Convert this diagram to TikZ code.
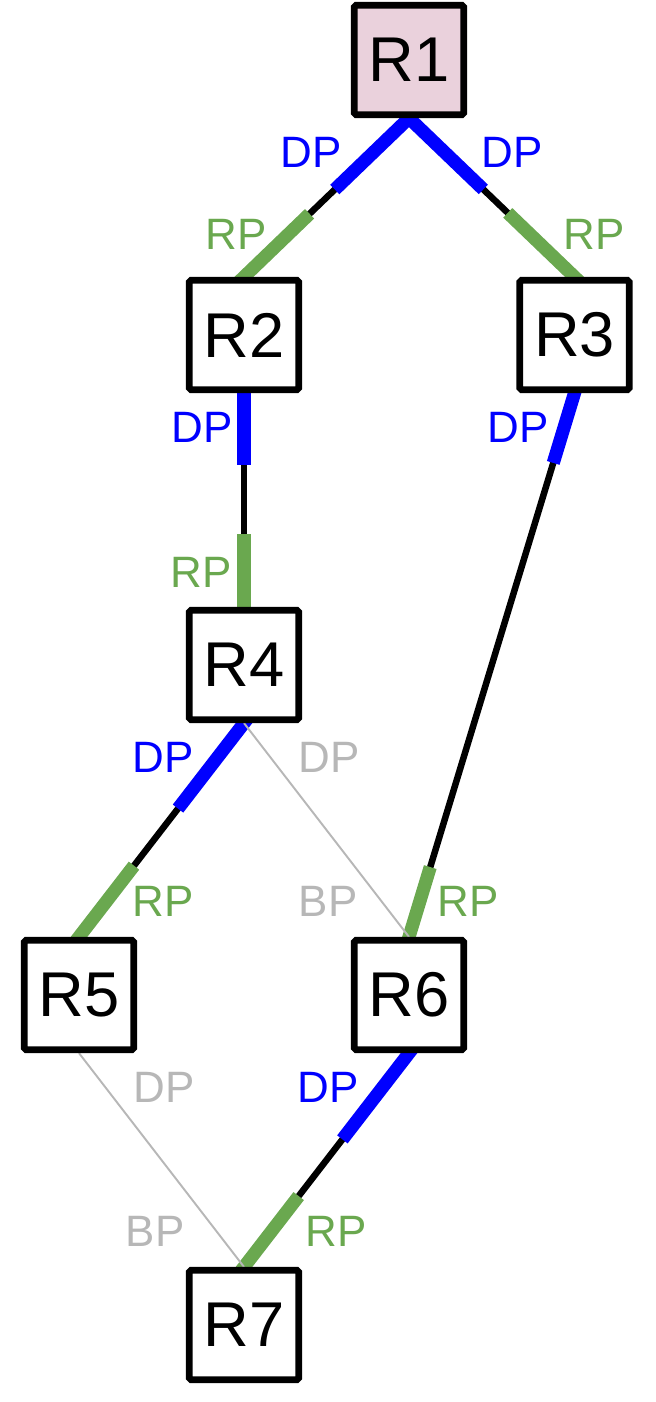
\documentclass[tikz,border=0pt]{standalone}
\usepackage{fontspec}
\setmainfont{Liberation Sans}
\usetikzlibrary{positioning,calc,backgrounds}

\definecolor{dpblue}{HTML}{0000FF}
\definecolor{rpgreen}{HTML}{6AA84F}
\definecolor{bpgray}{HTML}{B7B7B7}
\definecolor{rootpink}{HTML}{EAD1DC}

\tikzset{
  router/.style={draw, fill=white, line width=3.8pt, rounded corners=1pt,
    minimum size=2.19cm, inner sep=0pt, font=\fontsize{36}{40}\selectfont},
  link/.style={line width=3.7pt},
  bplink/.style={bpgray, line width=1.1pt},
  dpseg/.style={dpblue, line width=7.5pt, shorten <=-0.3cm},
  rpseg/.style={rpgreen, line width=7.5pt, shorten <=-0.3cm},
  dplabel/.style={text=dpblue, inner sep=0pt, font=\fontsize{25}{30}\selectfont},
  rplabel/.style={dplabel, text=rpgreen},
  bplabel/.style={dplabel, text=bpgray}
}

\begin{document}
\begin{tikzpicture}[on grid]
  \useasboundingbox (0,0) rectangle (13.1,-28.04);

  % routers
  \node[router, fill=rootpink] (R1) at (8.18,-1.2)            {R1};
  \node[router] (R2) [below left=5.5cm and 3.3cm of R1]       {R2};
  \node[router] (R3) [below right=5.5cm and 3.31cm of R1]     {R3};
  \node[router] (R4) [below=6.6cm of R2]                      {R4};
  \node[router] (R5) [below left=6.6cm and 3.3cm of R4]       {R5};
  \node[router] (R6) [below right=6.6cm and 3.3cm of R4]      {R6};
  \node[router] (R7) [below left=6.6cm and 3.3cm of R6]       {R7};

  % port roles
  \node[dplabel] (R1dpl) [below left=1.85cm and 1.95cm of R1]  {DP};
  \node[dplabel] (R1dpr) [below right=1.85cm and 2.07cm of R1] {DP};
  \node[rplabel] (R2rp)  [above left=2.02cm and 0.16cm of R2]  {RP};
  \node[rplabel] (R3rp)  [above right=2.02cm and 0.39cm of R3] {RP};
  \node[dplabel] (R2dp)  [below left=1.85cm and 0.83cm of R2]  {DP};
  \node[dplabel] (R3dp)  [below left=1.85cm and 1.13cm of R3]  {DP};
  \node[rplabel] (R4rp)  [above left=1.86cm and 0.86cm of R4]  {RP};
  \node[dplabel] (R4dp)  [below left=1.85cm and 1.61cm of R4]  {DP};
  \node[bplabel] (R4dpg) [below right=1.85cm and 1.7cm of R4]  {DP};
  \node[rplabel] (R5rp)  [above right=1.87cm and 1.69cm of R5] {RP};
  \node[bplabel] (R6bp)  [above left=1.87cm and 1.62cm of R6]  {BP};
  \node[rplabel] (R6rp)  [above right=1.87cm and 1.19cm of R6] {RP};
  \node[bplabel] (R5dpg) [below right=1.85cm and 1.71cm of R5] {DP};
  \node[dplabel] (R6dp)  [below left=1.85cm and 1.61cm of R6]  {DP};
  \node[bplabel] (R7bp)  [above left=1.88cm and 1.78cm of R7]  {BP};
  \node[rplabel] (R7rp)  [above right=1.88cm and 1.84cm of R7] {RP};

  % links
  \begin{scope}[on background layer]
    \draw[link] (R1.south) -- (R2.north);
    \draw[dpseg] (R1.south) -- ($(R1.south)!2.06cm!(R2.north)$);
    \draw[rpseg] (R2.north) -- ($(R2.north)!1.82cm!(R1.south)$);

    \draw[link] (R1.south) -- (R3.north);
    \draw[dpseg] (R1.south) -- ($(R1.south)!2.06cm!(R3.north)$);
    \draw[rpseg] (R3.north) -- ($(R3.north)!1.85cm!(R1.south)$);

    \draw[link] (R2.south) -- (R4.north);
    \draw[dpseg] (R2.south) -- ($(R2.south)!1.44cm!(R4.north)$);
    \draw[rpseg] (R4.north) -- ($(R4.north)!1.46cm!(R2.south)$);

    \draw[link] (R3.south) -- (R6.north);
    \draw[dpseg] (R3.south) -- ($(R3.south)!1.46cm!(R6.north)$);
    \draw[rpseg] (R6.north) -- ($(R6.north)!1.46cm!(R3.south)$);

    \draw[link] (R4.south) -- (R5.north);
    \draw[dpseg] (R4.south) -- ($(R4.south)!2.16cm!(R5.north)$);
    \draw[rpseg] (R5.north) -- ($(R5.north)!1.8cm!(R4.south)$);

    \draw[link] (R6.south) -- (R7.north);
    \draw[dpseg] (R6.south) -- ($(R6.south)!2.18cm!(R7.north)$);
    \draw[rpseg] (R7.north) -- ($(R7.north)!1.79cm!(R6.south)$);

    \draw[bplink] (R4.south) -- (R6.north);
    \draw[bplink] (R5.south) -- (R7.north);
  \end{scope}
\end{tikzpicture}
\end{document}
